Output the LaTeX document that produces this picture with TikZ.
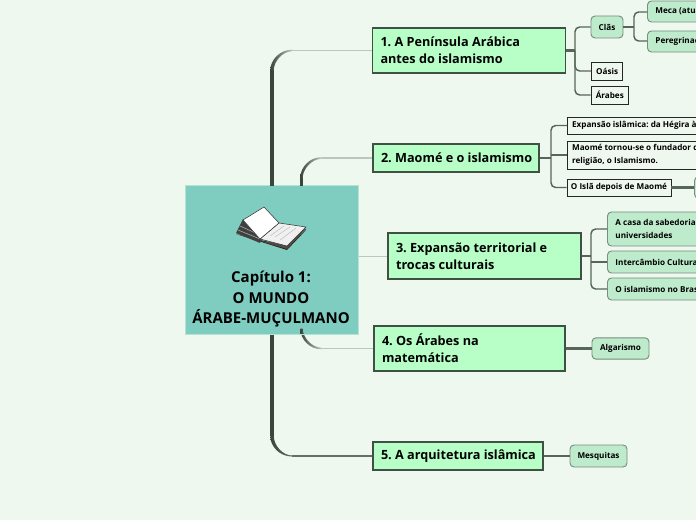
\documentclass[tikz,border=0pt]{standalone}
\usepackage{fontspec}
\setmainfont{Open Sans}
\usetikzlibrary{calc}
\definecolor{bgc}{HTML}{EFF8EE}
\definecolor{rootc}{HTML}{7FCDC0}
\definecolor{rootsh}{HTML}{B4E4D2}
\definecolor{mainc}{HTML}{B7FFC7}
\definecolor{subc}{HTML}{BDEBCB}
\definecolor{edgec}{HTML}{3F5044}
\definecolor{trunkc}{HTML}{3A463D}
\definecolor{lightc}{HTML}{B9C8BA}
\definecolor{linkc}{HTML}{56675A}
\tikzset{
  x=0.75pt,y=-0.75pt,
  rootbox/.style={draw=rootsh,line width=0.75pt,fill=rootc,minimum width=129.75pt,minimum height=111pt,inner sep=0pt},
  mainbox/.style={draw=edgec,line width=0.9pt,fill=mainc,inner xsep=6pt,inner ysep=0pt,align=flush left,font=\fontsize{9.5}{12.75}\selectfont\bfseries\frenchspacing},
  subbox/.style={draw=linkc!70!subc,line width=0.7pt,fill=subc,rounded corners=3pt,inner xsep=6pt,inner ysep=0pt,align=flush left,font=\fontsize{6.1}{9.6}\selectfont\bfseries\frenchspacing},
  leafbox/.style={draw=black!85,line width=0.7pt,fill=bgc,inner xsep=3.5pt,inner ysep=0pt,align=flush left,font=\fontsize{6.1}{9.6}\selectfont\bfseries\frenchspacing},
  midbox/.style={align=center,inner xsep=0pt},
  link/.style={draw=linkc,line width=1.1pt,rounded corners=3.5pt},
  stem/.style={draw=linkc,line width=1.6pt},
  pagew/.style={fill=white,draw=black!80,line width=0.4pt,line join=round},
}
\newcommand{\branch}[6]{%
  \path let \p1=(#1),\p2=(#2.west) in
    coordinate (ca) at ({\x1+15pt},\y2)
    coordinate (cb) at (\x1,{\y2-(#3)*15pt});
  \fill[trunkc] let \p1=(#1),\p3=(cb) in ({\x1-#4pt},\y1) rectangle ({\x1+#4pt},\y3);
  \shade[left color=trunkc,right color=#5] let \p1=(#1),\p3=(cb),\p4=(ca) in
    ({\x3-#4pt},\y3) .. controls ({\x3-#4pt},{\y3+(#3)*8pt}) and ({\x4-9pt},{\y4+(#3)*#6pt}) .. ({\x4},{\y4+(#3)*#6pt})
    -- ({\x4},{\y4-(#3)*#6pt}) .. controls ({\x4-7pt},{\y4-(#3)*#6pt}) and ({\x3+#4pt},{\y3+(#3)*7pt}) .. ({\x3+#4pt},\y3) -- cycle;
  \draw[#5,line width=#6pt*2] (ca) -- (#2.west);
}
\begin{document}
\begin{tikzpicture}
\useasboundingbox (0,0) rectangle (696,520);
\clip (0,0) rectangle (696,520);
\fill[bgc] (0,0) rectangle (696,520);

% main nodes
\node[mainbox,text width=132.75pt,minimum height=33.75pt] (n1) at (469,50.5) {\mbox{1. A Península Arábica}\\\mbox{antes do islamismo}};
\node[mainbox,text width=112.5pt,minimum height=21pt] (n2) at (456,158) {\mbox{2. Maomé e o islamismo}};
\node[mainbox,text width=132.75pt,minimum height=34.5pt] (n3) at (484.5,256) {\mbox{3. Expansão territorial e}\\\mbox{trocas culturais}};
\node[mainbox,text width=131.25pt,minimum height=33.75pt] (n4) at (469.5,348.5) {\mbox{4. Os Árabes na}\\\mbox{matemática}};
\node[mainbox,text width=115.5pt,minimum height=21pt] (n5) at (458,456) {\mbox{5. A arquitetura islâmica}};
\node[rootbox] (root) at (271.5,260) {};

% sub nodes
\node[subbox,midbox,minimum width=24pt,minimum height=16.5pt] (cla) at (607,27) {Clãs};
\node[subbox,anchor=west,text width=48pt,minimum height=15.75pt] (meca) at (647,11.5) {\mbox{Meca (atual}};
\node[subbox,anchor=west,text width=48pt,minimum height=15.75pt] (pere) at (647,41.5) {\mbox{Peregrinação}};
\node[leafbox,midbox,minimum width=23.5pt,minimum height=13.5pt] (oasis) at (607.2,71) {Oásis};
\node[leafbox,midbox,minimum width=28pt,minimum height=13.5pt] (arabes) at (609.8,95) {Árabes};
\node[leafbox,anchor=west,text width=113pt,minimum height=12.75pt] (exp) at (567,125.5) {\mbox{Expansão islâmica: da Hégira à}};
\node[leafbox,anchor=west,text width=113pt,minimum height=21pt] (mao) at (567,155) {\mbox{Maomé tornou-se o fundador d}\\\mbox{religião, o Islamismo.}};
\node[leafbox,midbox,minimum width=78pt,minimum height=12.75pt] (isla) at (619,187.5) {O Islã depois de Maomé};
\node[subbox,anchor=west,minimum width=30pt,minimum height=16pt] (dep) at (694,187.5) {};
\node[subbox,anchor=west,text width=78pt,minimum height=25.5pt] (casa) at (607,229) {\mbox{A casa da sabedoria}\\\mbox{universidades}};
\node[subbox,anchor=west,text width=78pt,minimum height=16.5pt] (inter) at (607,262) {\mbox{Intercâmbio Cultural}};
\node[subbox,anchor=west,text width=78pt,minimum height=16.5pt] (bras) at (607,289) {\mbox{O islamismo no Brasil}};
\node[subbox,midbox,minimum width=42.75pt,minimum height=16pt] (alg) at (620.5,348.5) {Algarismo};
\node[subbox,midbox,minimum width=42.75pt,minimum height=16.5pt] (mes) at (598.5,456) {Mesquitas};

% junction coordinates
\coordinate (t1) at (272,186);
\coordinate (t2) at (301.5,186);
\coordinate (t4) at (301.5,334);
\coordinate (t5) at (272,334);
\coordinate (j1) at (575,50.5);
\coordinate (jc) at (634,27);
\coordinate (j2) at (551,158);
\coordinate (j3) at (591,256);

% root branches
\branch{t1}{n1}{1}{1.3}{lightc}{0.6}
\branch{t2}{n2}{1}{0.9}{lightc}{0.6}
\branch{t4}{n4}{-1}{0.9}{lightc}{0.6}
\branch{t5}{n5}{-1}{1.3}{black!45!lightc}{0.4}
\draw[lightc,line width=0.7pt] (root.east |- n3.west) -- (n3.west);

% sub-branches
\draw[stem] (n1.east |- j1) -- (j1);
\draw[link] (cla.west) -| (j1) |- (arabes.west);
\draw[link] (j1) -- (j1 |- oasis.west) -- (oasis.west);
\draw[stem] (cla.east) -- (jc);
\draw[link] (meca.west |- 0,12) -| (jc) |- (pere.west |- 0,41);
\draw[stem] (n2.east) -- (j2);
\draw[link] (exp.west) -| (j2) |- (isla.west);
\draw[link] (j2 |- mao.west) -- (mao.west);
\draw[stem] (isla.east) -- (dep.west);
\draw[stem] (n3.east) -- (j3);
\draw[link] (casa.west) -| (j3) |- (bras.west);
\draw[link] (j3 |- inter.west) -- (inter.west);
\draw[stem] (n4.east) -- (alg.west);
\draw[stem] (n5.east) -- (mes.west);

% root text and book
\draw[rootsh,line width=0.75pt] (358.9,187) -- (358.9,334.9) -- (186,334.9);
\node[font=\fontsize{11.25}{15.4}\selectfont\bfseries,align=center,inner sep=0pt] (title) at (271,299.5) {Capítulo 1:\\O MUNDO\\ÁRABE-MUÇULMANO};
% book
\fill[black!75!brown] (236,234) -- (287,250) -- (306,230) -- (287,246) -- (260,240) -- cycle;
\fill[black!75] (243,219) -- (236,233) -- (260,243) -- (262,238) -- cycle;
\draw[white!70!black,line width=0.4pt] (240,226) -- (260,235) (238,230) -- (260,239);
\fill[black!70] (260,241) -- (287,249) -- (306,229) -- (304,228) -- (287,244) -- cycle;
\draw[pagew,fill=black!6] (260,239) -- (279,223) -- (306,227) -- (287,246) -- cycle;
\draw[black!30,line width=0.3pt] (270,236) -- (284,226) (275,237) -- (290,227) (280,240) -- (296,228);
\draw[pagew] (243,220) -- (264,207) -- (279,223) -- (260,239) -- cycle;
\end{tikzpicture}
\end{document}
